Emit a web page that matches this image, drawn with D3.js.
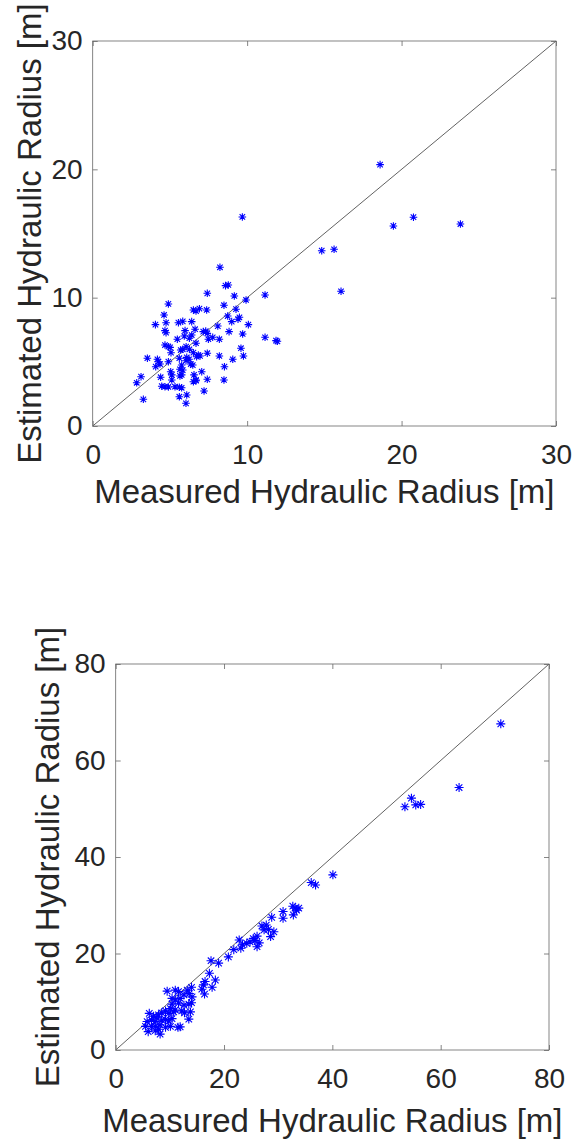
<!DOCTYPE html>
<html>
<head>
<meta charset="utf-8">
<script src="https://cdn.jsdelivr.net/npm/d3@7"></script>
<style>
  body { margin: 0; background: #fff; }
  text { font-family: "Liberation Sans", Arial, sans-serif; fill: #262626; }
</style>
</head>
<body>
<div id="graph"></div>
<script>
let width = 576, height = 1142;

// top panel: measured vs estimated hydraulic radius [m]
let topMeasured = [8.24, 8.60, 8.78, 7.42, 9.17, 11.16, 9.93, 4.90, 8.50, 6.52, 6.69, 6.91, 7.38, 9.28, 4.62, 8.74, 9.50, 9.41,
  6.41, 5.55, 5.83, 4.75, 4.06, 9.00, 10.08, 8.10, 4.68, 4.75, 5.98, 5.93, 6.63, 7.16, 7.32, 7.42, 8.83, 9.71, 6.41, 7.49,
  7.77, 8.20, 5.48, 6.26, 11.16, 11.87, 11.96, 4.68, 4.90, 6.69, 6.05, 6.26, 5.83, 5.01, 5.07, 5.70, 6.52, 6.73, 6.84, 6.95,
  7.42, 9.60, 8.20, 9.76, 9.07, 3.54, 4.19, 4.25, 4.36, 4.08, 5.61, 6.09, 6.24, 6.04, 4.90, 6.35, 6.48, 5.76, 5.65, 5.83,
  8.53, 5.05, 5.12, 7.06, 6.56, 6.69, 5.65, 5.76, 7.42, 8.50, 3.13, 2.85, 4.40, 5.12, 6.52, 6.69, 4.47, 4.68, 4.90, 5.33,
  5.61, 5.76, 7.21, 5.61, 6.09, 3.28, 6.04, 9.69, 18.61, 20.77, 19.47, 23.81, 14.83, 15.63, 16.08];
let topEstimated = [12.37, 10.94, 10.99, 10.34, 10.13, 10.21, 9.82, 9.51, 9.41, 9.04, 8.96, 9.14, 9.04, 9.10, 8.65, 8.57, 8.47, 8.32,
  8.13, 8.05, 8.16, 8.05, 7.90, 8.13, 7.90, 7.79, 7.43, 7.27, 7.43, 7.01, 7.54, 7.35, 7.40, 7.22, 7.35, 7.17, 7.09, 6.76,
  6.91, 6.76, 6.76, 6.84, 6.91, 6.65, 6.60, 6.31, 6.18, 6.45, 6.18, 5.98, 5.98, 6.13, 5.71, 5.92, 5.71, 5.40, 5.53, 5.46,
  5.67, 6.06, 5.46, 5.46, 5.20, 5.28, 5.20, 5.01, 4.83, 4.62, 5.28, 5.35, 5.20, 5.09, 5.01, 4.83, 4.75, 4.75, 4.42, 4.36,
  4.62, 4.23, 3.98, 4.23, 3.98, 3.59, 3.90, 3.98, 3.64, 3.59, 3.84, 3.37, 3.80, 3.59, 3.45, 3.53, 3.10, 3.06, 3.04, 3.06,
  3.02, 2.98, 2.73, 2.28, 2.42, 2.08, 1.77, 16.29, 20.37, 16.27, 15.59, 15.74, 13.66, 13.77, 10.50];

// bottom panel
let bottomMeasured = [71.1, 63.4, 54.6, 53.4, 55.4, 56.3, 40.1, 36.1, 36.9, 32.7, 33.1, 33.8, 33.4, 32.8, 30.9, 30.9, 28.8, 27.0,
  27.8, 27.4, 28.2, 29.2, 28.6, 22.8, 25.4, 26.1, 24.8, 25.7, 26.5, 24.2, 23.4, 23.1, 26.1, 17.6, 19.0, 17.3, 18.4, 16.5,
  16.2, 17.8, 15.9, 16.4, 9.5, 11.0, 11.6, 13.2, 14.0, 13.6, 12.6, 14.1, 10.4, 11.0, 11.9, 10.4, 11.6, 12.6, 13.5, 14.0,
  10.1, 11.0, 10.7, 12.2, 12.7, 8.5, 9.2, 9.8, 13.8, 6.2, 7.0, 7.5, 7.9, 5.8, 6.6, 7.3, 8.5, 9.2, 9.8, 10.4, 13.5, 5.5,
  6.6, 7.3, 8.2, 9.2, 10.1, 11.5, 11.9, 6.0, 7.3, 8.2, 7.9, 20.8, 21.8];
let bottomEstimated = [67.6, 54.4, 52.2, 50.4, 50.8, 50.9, 36.3, 34.7, 34.2, 29.8, 29.4, 29.4, 29.0, 28.0, 28.7, 27.3, 27.5, 25.7,
  25.9, 24.9, 25.0, 24.5, 23.5, 22.8, 23.1, 23.6, 22.4, 22.7, 22.2, 22.1, 21.8, 21.1, 21.4, 18.5, 18.0, 15.9, 14.5, 14.2,
  13.5, 13.0, 12.6, 11.6, 12.2, 12.4, 12.1, 12.4, 13.0, 11.7, 11.4, 11.0, 10.7, 10.4, 10.7, 9.5, 9.7, 9.3, 9.5, 9.8,
  8.6, 8.3, 7.9, 8.1, 7.7, 7.7, 8.1, 7.6, 7.9, 7.6, 7.0, 6.8, 7.3, 5.9, 6.2, 5.9, 6.2, 6.3, 6.0, 6.5, 6.4, 4.9,
  4.9, 4.9, 5.2, 4.7, 4.9, 4.7, 4.8, 3.8, 4.0, 3.3, 4.3, 19.3, 20.8];

let topTicks = [0, 10, 20, 30];
let bottomTicks = [0, 20, 40, 60, 80];

let svg = d3.select("#graph").append("svg")
  .attr("width", width)
  .attr("height", height);

svg.append("rect").attr("width", width).attr("height", height).attr("fill", "white");

// asterisk marker like matlab '*'
function starPath(r) {
  let d = r * 0.72;
  return "M" + (-r) + ",0L" + r + ",0M0," + (-r) + "L0," + r +
    "M" + (-d) + "," + (-d) + "L" + d + "," + d + "M" + (-d) + "," + d + "L" + d + "," + (-d);
}

function drawPanel(p) {
  let x = d3.scaleLinear().domain([0, p.max]).range([p.left, p.right]);
  let y = d3.scaleLinear().domain([0, p.max]).range([p.bottom, p.top]);
  let g = svg.append("g");

  // 1:1 line
  g.append("line")
    .attr("x1", x(0)).attr("y1", y(0))
    .attr("x2", x(p.max)).attr("y2", y(p.max))
    .attr("stroke", "#3a3a3a")
    .attr("stroke-width", 0.8);

  // ticks on all four sides, pointing in
  let tl = 5;
  let axB = g.append("g").attr("transform", "translate(0," + p.bottom + ")")
    .call(d3.axisBottom(x).tickValues(p.ticks).tickSize(-tl).tickPadding(18));
  let axL = g.append("g").attr("transform", "translate(" + p.left + ",0)")
    .call(d3.axisLeft(y).tickValues(p.ticks).tickSize(-tl).tickPadding(10));
  let axT = g.append("g").attr("transform", "translate(0," + p.top + ")")
    .call(d3.axisTop(x).tickValues(p.ticks).tickSize(-tl).tickFormat(""));
  let axR = g.append("g").attr("transform", "translate(" + p.right + ",0)")
    .call(d3.axisRight(y).tickValues(p.ticks).tickSize(-tl).tickFormat(""));

  [axB, axL, axT, axR].forEach(a => {
    a.select(".domain").remove();
    a.selectAll("line").attr("stroke", "#666").attr("stroke-width", 0.8);
    a.selectAll("text")
      .style("font-size", "28px")
      .style("font-family", "'Liberation Sans', Arial, sans-serif")
      .attr("fill", "#262626");
  });

  g.append("rect")
    .attr("x", p.left).attr("y", p.top)
    .attr("width", p.right - p.left).attr("height", p.bottom - p.top)
    .attr("fill", "none")
    .attr("stroke", "#666")
    .attr("stroke-width", 0.8);

  // points
  g.append("g").selectAll("path")
    .data(p.xs.map((v, i) => [v, p.ys[i]]))
    .enter().append("path")
    .attr("transform", d => "translate(" + x(d[0]) + "," + y(d[1]) + ")")
    .attr("d", starPath(p.r))
    .attr("fill", "none")
    .attr("stroke", "#0000ff")
    .attr("stroke-width", 1.1);

  // axis titles
  g.append("text")
    .attr("x", (p.left + p.right) / 2)
    .attr("y", p.xLabelY)
    .attr("text-anchor", "middle")
    .style("font-size", "33px")
    .text("Measured Hydraulic Radius [m]");

  g.append("text")
    .attr("transform", "translate(" + p.yLabelX + "," + ((p.top + p.bottom) / 2) + ") rotate(-90)")
    .attr("text-anchor", "middle")
    .style("font-size", "33px")
    .text("Estimated Hydraulic Radius [m]");
}

drawPanel({
  left: 92.7, right: 556, top: 41, bottom: 426, max: 30,
  ticks: topTicks, xs: topMeasured, ys: topEstimated, r: 3.8,
  xLabelY: 503, yLabelX: 41
});

drawPanel({
  left: 115.7, right: 549, top: 664, bottom: 1050, max: 80,
  ticks: bottomTicks, xs: bottomMeasured, ys: bottomEstimated, r: 4.5,
  xLabelY: 1132, yLabelX: 59
});
</script>
</body>
</html>
